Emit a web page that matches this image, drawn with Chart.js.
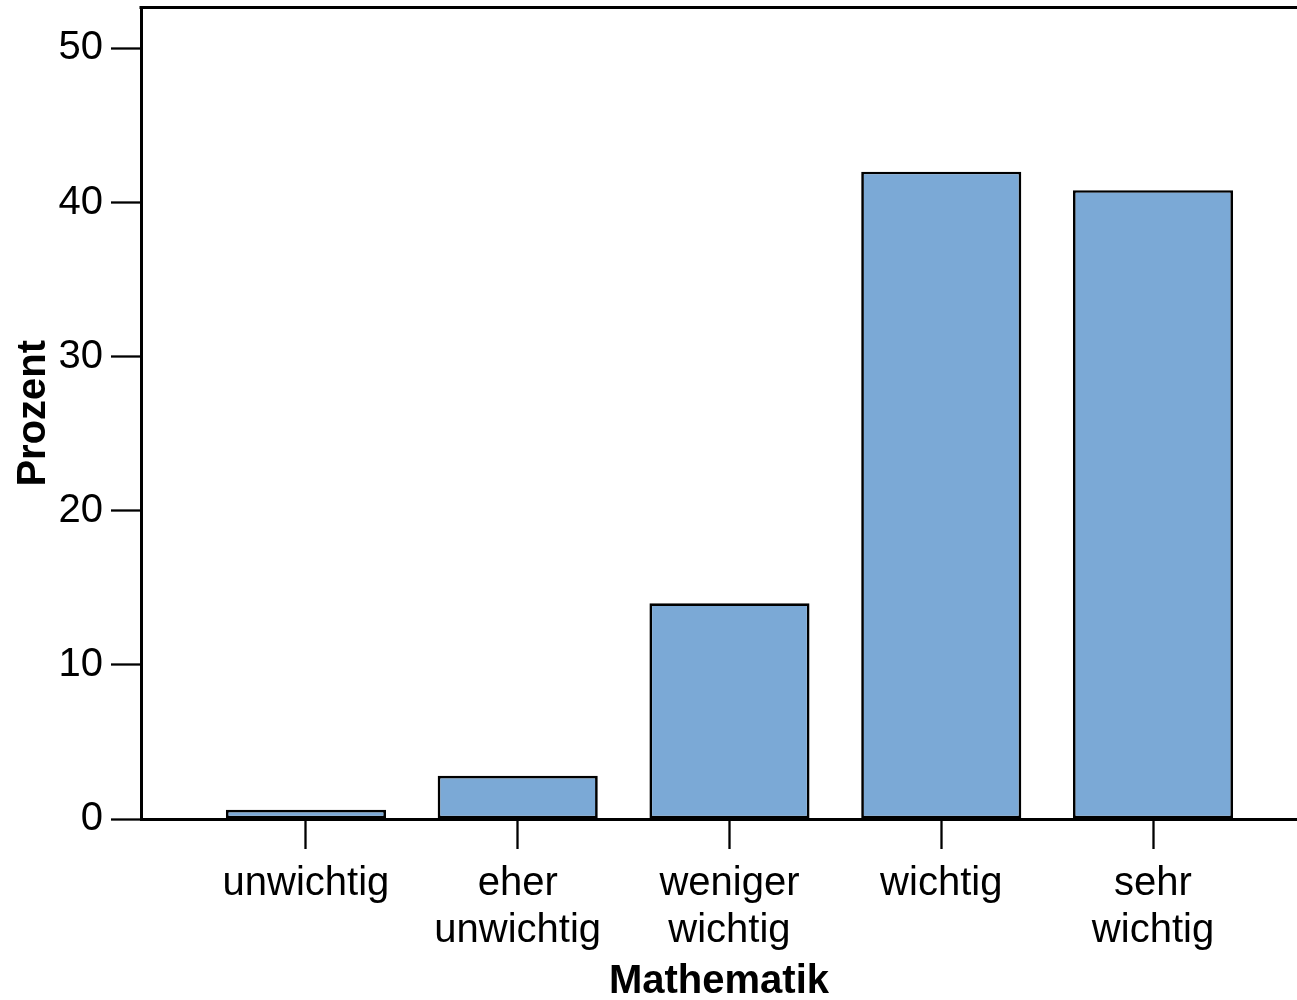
<!DOCTYPE html>
<html>
<head>
<meta charset="utf-8">
<script src="https://cdn.jsdelivr.net/npm/chart.js@4.4.1/dist/chart.umd.min.js"></script>
<style>
  html, body { margin: 0; padding: 0; background: #fff; }
  #wrap { width: 1297px; height: 1000px; }
</style>
</head>
<body>
<div id="wrap"><canvas id="c" width="1297" height="1000"></canvas></div>
<script>
// ---- data ----
const categories = ["unwichtig", "eher unwichtig", "weniger wichtig", "wichtig", "sehr wichtig"];
const tickLabels = [["unwichtig"], ["eher", "unwichtig"], ["weniger", "wichtig"], ["wichtig"], ["sehr", "wichtig"]];
const percentValues = [0.6, 2.8, 14.0, 42.0, 40.8];
const yTicks = [0, 10, 20, 30, 40, 50];
const xTitle = "Mathematik";
const yTitle = "Prozent";

const FONT = "'Liberation Sans', Arial, Helvetica, sans-serif";
const points = categories.map((c, i) => ({ x: i + 1, y: percentValues[i] }));

const topBorder = {
  id: 'topBorder',
  afterDraw(chart) {
    const { ctx, chartArea } = chart;
    ctx.save();
    ctx.strokeStyle = '#000';
    ctx.lineWidth = 3;
    ctx.beginPath();
    ctx.moveTo(chartArea.left - 1.5, chartArea.top);
    ctx.lineTo(chartArea.right + 2, chartArea.top);
    ctx.stroke();
    ctx.restore();
  }
};

new Chart(document.getElementById('c'), {
  type: 'bar',
  data: {
    datasets: [{
      data: points,
      backgroundColor: '#7ba9d6',
      borderColor: '#000',
      borderWidth: 2.7,
      borderSkipped: false,
      categoryPercentage: 1,
      barPercentage: 0.756
    }]
  },
  options: {
    responsive: false,
    animation: false,
    layout: { padding: { left: 0, right: 0, top: 7.5, bottom: 0 } },
    plugins: { legend: { display: false }, tooltip: { enabled: false } },
    scales: {
      x: {
        type: 'linear',
        offset: false,
        min: 0.221,
        max: 5.68,
        afterBuildTicks(scale) { scale.ticks = categories.map((c, i) => ({ value: i + 1 })); },
        afterFit(scale) { scale.height = 181; scale.paddingLeft = 0; scale.paddingRight = 0; },
        ticks: {
          autoSkip: false,
          maxRotation: 0,
          minRotation: 0,
          padding: 11,
          color: '#000',
          font: { family: FONT, size: 40, lineHeight: 1.175 },
          callback: (v) => tickLabels[Math.round(v) - 1]
        },
        grid: { display: true, offset: false, drawOnChartArea: false, tickLength: 30, tickWidth: 2.3, tickColor: '#000' },
        border: { display: true, color: '#000', width: 3 },
        title: { display: true, text: xTitle, color: '#000', font: { family: FONT, size: 40, weight: 'bold', lineHeight: 1.2 }, padding: { top: 0, bottom: -6 } }
      },
      y: {
        min: 0,
        max: 52.65,
        afterBuildTicks(scale) { scale.ticks = yTicks.map(v => ({ value: v })); },
        afterFit(scale) { scale.width = 141; scale.paddingTop = 0; scale.paddingBottom = 0; },
        ticks: {
          padding: 8,
          color: '#000',
          font: { family: FONT, size: 40 }
        },
        grid: { display: true, drawOnChartArea: false, tickLength: 30, tickWidth: 2.3, tickColor: '#000' },
        border: { display: true, color: '#000', width: 3 },
        title: { display: true, text: yTitle, color: '#000', font: { family: FONT, size: 40, weight: 'bold', lineHeight: 1.2 }, padding: { top: 10, bottom: 0 } }
      }
    }
  },
  plugins: [topBorder]
});
</script>
</body>
</html>
